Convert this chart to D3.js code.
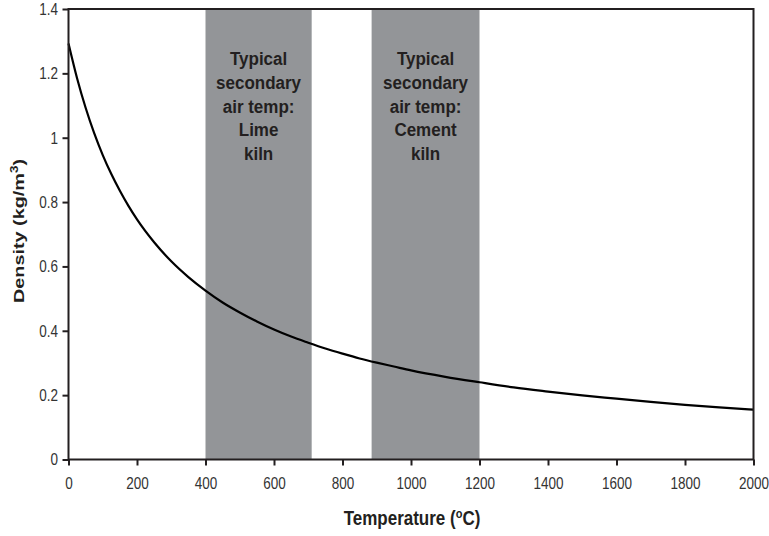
<!DOCTYPE html>
<html>
<head>
<meta charset="utf-8">
<script src="https://cdn.jsdelivr.net/npm/d3@7"></script>
<style>
  html, body { margin: 0; padding: 0; background: #ffffff; }
  svg { display: block; font-family: "Liberation Sans", Arial, sans-serif; }
</style>
</head>
<body>
<svg id="chart" width="769" height="536"></svg>
<script>
// Air density against temperature
const temperatures = [0, 25, 50, 75, 100, 125, 150, 175, 200, 250, 300, 350, 400, 450, 500,
  550, 600, 650, 700, 750, 800, 850, 900, 950, 1000, 1100, 1200, 1300, 1400, 1500,
  1600, 1700, 1800, 1900, 2000];
const densities = [1.293, 1.185, 1.093, 1.014, 0.946, 0.887, 0.835, 0.788, 0.746, 0.675, 0.616,
  0.567, 0.525, 0.488, 0.457, 0.429, 0.404, 0.382, 0.363, 0.345, 0.329, 0.314, 0.301,
  0.289, 0.277, 0.257, 0.240, 0.224, 0.211, 0.199, 0.189, 0.179, 0.170, 0.162, 0.155];

// Shaded temperature ranges for secondary air
const bandStart = [400, 885];
const bandEnd = [710, 1200];
const bandLabels = [
  ["Typical", "secondary", "air temp:", "Lime", "kiln"],
  ["Typical", "secondary", "air temp:", "Cement", "kiln"]
];

const xTicks = [0, 200, 400, 600, 800, 1000, 1200, 1400, 1600, 1800, 2000];
const yTicks = [0, 0.2, 0.4, 0.6, 0.8, 1, 1.2, 1.4];

const ink = "#231f20";
const svg = d3.select("#chart");
const plotLeft = 68.5, plotRight = 753.5, plotTop = 9, plotBottom = 459.5;

const x = d3.scaleLinear().domain([0, 2000]).range([plotLeft, plotRight]);
const y = d3.scaleLinear().domain([0, 1.4]).range([plotBottom, plotTop]);

// bands
const bands = svg.append("g");
bandStart.forEach((s, i) => {
  bands.append("rect")
    .attr("x", x(s)).attr("y", plotTop)
    .attr("width", x(bandEnd[i]) - x(s))
    .attr("height", plotBottom - plotTop)
    .attr("fill", "#939598");
  const cx = (x(s) + x(bandEnd[i])) / 2;
  bandLabels[i].forEach((line, j) => {
    svg.append("text")
      .attr("transform", `translate(${cx},${65 + j * 23.8}) scale(1,1.09)`)
      .attr("text-anchor", "middle")
      .attr("font-size", 17)
      .attr("font-weight", "bold")
      .attr("fill", ink)
      .text(line);
  });
});

// curve
const pts = temperatures.map((t, i) => [t, densities[i]]);
svg.append("path")
  .datum(pts)
  .attr("fill", "none")
  .attr("stroke", "#000")
  .attr("stroke-width", 2.2)
  .attr("d", d3.line().x(d => x(d[0])).y(d => y(d[1])).curve(d3.curveMonotoneX));

// frame
svg.append("rect")
  .attr("x", plotLeft).attr("y", plotTop)
  .attr("width", plotRight - plotLeft).attr("height", plotBottom - plotTop)
  .attr("fill", "none").attr("stroke", ink).attr("stroke-width", 2);

// axes
const xAxis = svg.append("g")
  .attr("transform", `translate(0,${plotBottom})`)
  .call(d3.axisBottom(x).tickValues(xTicks).tickFormat(d3.format("d")).tickSize(6));
xAxis.select(".domain").remove();
xAxis.selectAll("line").attr("stroke", ink).attr("stroke-width", 2);
xAxis.selectAll("text")
  .attr("y", 23.6).attr("dy", null)
  .attr("transform", "scale(1,1.25)")
  .attr("font-size", 13.5).attr("fill", "#333")
  .attr("font-family", "Liberation Sans, Arial, sans-serif");

const yAxis = svg.append("g")
  .attr("transform", `translate(${plotLeft},0)`)
  .call(d3.axisLeft(y).tickValues(yTicks).tickFormat(d => d === 0 || d === 1 ? d3.format("d")(d) : d3.format(".1f")(d)).tickSize(6));
yAxis.select(".domain").remove();
yAxis.selectAll("line").attr("stroke", ink).attr("stroke-width", 2);
yAxis.selectAll("text")
  .attr("x", -10.5).attr("dy", "0.32em")
  .attr("transform", "scale(1,1.25)")
  .attr("font-size", 13.5).attr("fill", "#333")
  .attr("font-family", "Liberation Sans, Arial, sans-serif");

// axis titles
const xt = svg.append("text")
  .attr("transform", "translate(412,525) scale(1,1.23)")
  .attr("text-anchor", "middle")
  .attr("font-size", 17).attr("font-weight", "bold").attr("fill", ink);
xt.append("tspan").text("Temperature (");
xt.append("tspan").attr("dy", -6).attr("font-size", 11).text("o");
xt.append("tspan").attr("dy", 6).text("C)");

const yt = svg.append("text")
  .attr("transform", "translate(24,231) scale(1,1.28) rotate(-90)")
  .attr("text-anchor", "middle")
  .attr("font-size", 15.5).attr("font-weight", "bold").attr("fill", ink);
yt.append("tspan").text("Density (kg/m");
yt.append("tspan").attr("dy", -6).attr("font-size", 10.5).text("3");
yt.append("tspan").attr("dy", 6).text(")");
</script>
</body>
</html>
